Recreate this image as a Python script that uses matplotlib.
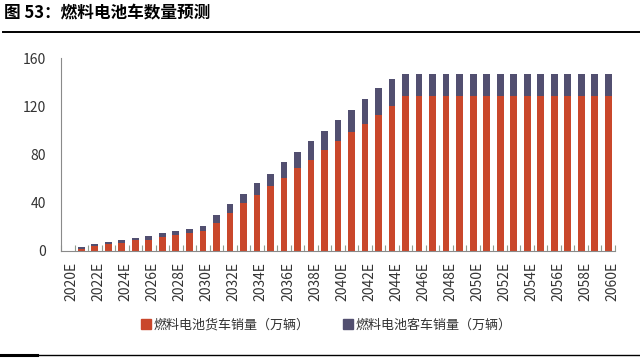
import matplotlib
matplotlib.use("Agg")
import matplotlib.pyplot as plt
import matplotlib.transforms as mtransforms
from matplotlib.lines import Line2D
from matplotlib.patches import Patch
import numpy as np

plt.rcParams['font.family'] = ['Noto Sans CJK SC', 'DejaVu Sans']

# data (万辆)
years = [f"{y}E" for y in range(2020, 2061)]
truck = [0.2, 1.9, 4.2, 5.5, 6.9, 9.1, 9.4, 11.3, 13.0, 15.3,
         16.2, 23.1, 31.7, 39.6, 46.2, 54.2, 60.9, 68.8, 75.8, 83.9,
         91.4, 98.3, 105.5, 113.0, 120.5, 128.7, 128.7, 128.7, 128.7, 128.7,
         128.7, 128.7, 128.7, 128.7, 128.7, 128.7, 128.7, 128.7, 128.7, 128.7,
         128.7]
bus = [0.1, 1.7, 1.3, 2.0, 2.2, 1.9, 3.4, 3.5, 3.6, 3.2,
       4.9, 6.5, 7.1, 7.3, 9.8, 10.0, 12.6, 13.2, 15.0, 15.2,
       16.8, 18.2, 20.2, 21.8, 22.4, 17.9, 17.9, 17.9, 17.9, 17.9,
       17.9, 17.9, 17.9, 17.9, 17.9, 17.9, 17.9, 17.9, 17.9, 17.9,
       17.9]
series_names = ["燃料电池货车销量（万辆）", "燃料电池客车销量（万辆）"]
yticks = [0, 40, 80, 120, 160]

red = "#C9472B"
navy = "#524F70"

fig = plt.figure(figsize=(6.4, 3.59), dpi=100)
ax = fig.add_axes([61 / 640, 1 - 251 / 359, 554 / 640, 193 / 359])

x = np.arange(len(years))
ax.bar(x, truck, width=0.5, color=red, zorder=2)
ax.bar(x, bus, width=0.5, bottom=truck, color=navy, zorder=2)

ax.set_xlim(-0.5, len(years) - 0.5)
ax.set_ylim(0, 160)
ax.set_yticks(yticks)
ax.tick_params(axis='y', length=0, pad=11, labelsize=10, labelcolor='#333333')

ax.set_xticks(x[::2])
ax.set_xticklabels(years[::2], rotation=90)
ax.tick_params(axis='x', which='major', length=0, pad=8, labelsize=10, labelcolor='#333333')
ax.set_xticks(np.arange(len(years) + 1) - 0.5, minor=True)
ax.tick_params(axis='x', which='minor', direction='in', length=4, color='#8f9c8f', width=0.8)

# shift the year labels slightly right, like the original
offset = mtransforms.ScaledTranslation(0.04, 0, fig.dpi_scale_trans)
for lab in ax.get_xticklabels():
    lab.set_transform(lab.get_transform() + offset)

for s in ['top', 'right']:
    ax.spines[s].set_visible(False)
for s in ['left', 'bottom']:
    ax.spines[s].set_color('#8a8a8a')
    ax.spines[s].set_linewidth(0.8)

handles = [Patch(color=red), Patch(color=navy)]
fig.legend(handles, series_names, loc='center', bbox_to_anchor=(0.51, 1 - 325 / 359),
           ncol=2, frameon=False, fontsize=9.4, handlelength=0.75, handleheight=0.75,
           handletextpad=0.2, columnspacing=2.6, labelcolor='#333333')

# title and rules
fig.text(0.006, 1 - 12 / 359, "图 53：燃料电池车数量预测", fontsize=12,
         fontweight='bold', va='center', ha='left')
fig.add_artist(Line2D([0.005, 1.0], [1 - 31.5 / 359] * 2, color='black', lw=1.4))
fig.add_artist(Line2D([0.0, 1.0], [1 - 355 / 359] * 2, color='black', lw=1.0))
fig.add_artist(Line2D([0.0, 37 / 640], [1 - 355 / 359] * 2, color='black', lw=2.2))

fig.savefig("out.png", dpi=100)
